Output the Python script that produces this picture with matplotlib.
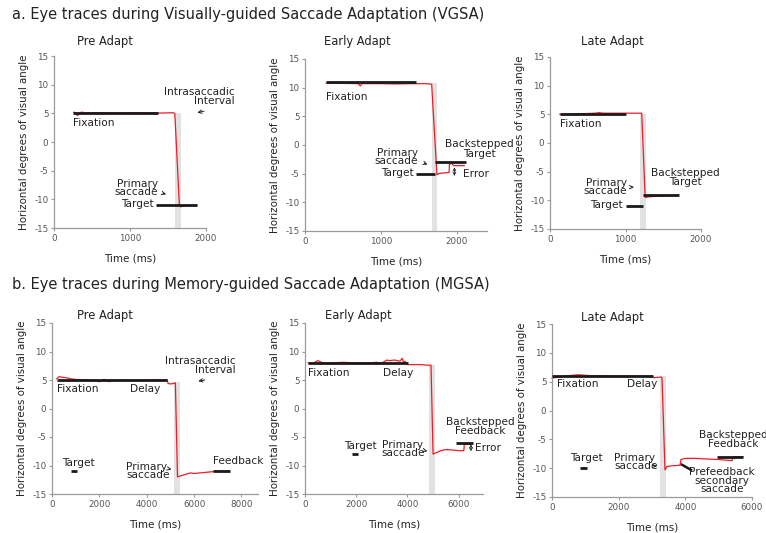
import matplotlib
matplotlib.use("Agg")
import matplotlib.pyplot as plt

plt.rcParams['font.family'] = ['DejaVu Sans']
plt.rcParams['axes.unicode_minus'] = False

# ---------------- data ----------------
# Visually-guided saccade adaptation (VGSA): eye position traces (time ms, deg)
vg_pre_t = [260, 290, 310, 330, 360, 420, 600, 800, 1000, 1200, 1400, 1570, 1590, 1650, 1670, 1700, 1750, 1800, 1880]
vg_pre_x = [5.2, 5.0, 4.6, 5.0, 5.2, 5.1, 5.1, 5.05, 5.1, 5.1, 5.05, 5.1, 4.9, -11.1, -11.3, -11.2, -11.1, -11.1, -11.0]

vg_early_t = [280, 500, 700, 730, 750, 800, 1000, 1200, 1400, 1600, 1670, 1740, 1760, 1800, 1900, 1905, 1920, 1930, 1945, 1960, 2000, 2100]
vg_early_x = [10.8, 10.75, 10.7, 10.3, 10.7, 10.7, 10.7, 10.65, 10.7, 10.7, 10.6, -5.2, -5.0, -4.9, -4.8, -3.3, -3.3, -3.0, -3.4, -3.6, -3.6, -3.6]

vg_late_t = [130, 300, 600, 650, 700, 900, 1100, 1215, 1260, 1300, 1400, 1500, 1600, 1700]
vg_late_x = [5.0, 5.05, 5.2, 5.3, 5.2, 5.2, 5.2, 5.2, -9.5, -9.4, -9.3, -9.3, -9.2, -9.1]

# Memory-guided saccade adaptation (MGSA): eye position traces
mg_pre_t = [200, 300, 400, 600, 800, 1000, 1500, 1800, 2000, 2200, 2400, 2600, 3000, 3500, 4000, 4500, 4870, 4900, 5000, 5150, 5210, 5300, 5450, 5600, 5850, 6000, 6500, 7000, 7500]
mg_pre_x = [5.2, 5.6, 5.5, 5.4, 5.2, 5.1, 5.0, 4.9, 4.7, 5.1, 4.7, 4.9, 5.0, 4.9, 5.0, 5.0, 5.0, 4.4, 4.3, 4.4, 4.5, -12.0, -11.8, -11.6, -11.3, -11.4, -11.2, -11.0, -11.0]

mg_early_t = [120, 300, 500, 700, 1000, 1500, 2000, 2500, 2800, 3000, 3200, 3300, 3500, 3700, 3800, 3850, 3900, 4000, 4200, 4500, 4800, 4920, 5000, 5100, 5300, 5500, 5800, 6000, 6200, 6220, 6300, 6500]
mg_early_x = [8.0, 7.9, 8.4, 8.0, 8.0, 8.1, 8.0, 8.0, 8.1, 8.0, 8.5, 8.4, 8.5, 8.3, 8.8, 8.0, 8.3, 7.7, 7.7, 7.7, 7.6, 7.6, -8.0, -7.8, -7.4, -7.2, -7.3, -7.4, -7.4, -6.3, -6.3, -6.2]

mg_late_t = [0, 300, 600, 800, 1000, 1300, 1600, 2000, 2500, 3000, 3050, 3280, 3300, 3390, 3450, 3600, 3800, 3840, 3870, 4000, 4300, 4600, 5000, 5400, 5430, 5500, 5730]
mg_late_x = [5.6, 5.9, 6.1, 6.2, 6.1, 6.0, 6.0, 5.95, 5.95, 5.95, 5.7, 5.8, 5.6, -10.3, -9.7, -9.6, -9.5, -9.5, -8.5, -8.3, -8.3, -8.4, -8.5, -8.7, -8.0, -8.0, -8.0]

# Stimulus bars: (start ms, end ms, position deg)
vg_pre_bars = [(250, 1370, 5), (1340, 1880, -11)]
vg_early_bars = [(280, 1470, 11), (1460, 1710, -5), (1710, 2120, -3)]
vg_late_bars = [(130, 1010, 5), (1000, 1230, -11), (1230, 1710, -9)]
mg_pre_bars = [(200, 4870, 5), (800, 1060, -11), (6780, 7500, -11)]
mg_early_bars = [(120, 4020, 8), (1840, 2070, -8), (5900, 6560, -6)]
mg_late_bars = [(0, 3030, 6), (840, 1050, -10), (4950, 5730, -8)]

# Intrasaccadic interval: (start ms, end ms, top deg)
vg_pre_isi = (1590, 1670, 5)
vg_early_isi = (1670, 1740, 10.8)
vg_late_isi = (1190, 1270, 5)
mg_pre_isi = (5170, 5400, 4.7)
mg_early_isi = (4840, 5070, 7.7)
mg_late_isi = (3240, 3420, 5.9)

panel_titles = ["Pre Adapt", "Early Adapt", "Late Adapt"]
yticks = [-15, -10, -5, 0, 5, 10, 15]

# ---------------- figure ----------------
W, H = 766, 533
fig = plt.figure(figsize=(W / 100, H / 100), dpi=100)


def px_rect(x0, x1, ytop, ybot):
    return [x0 / W, 1 - ybot / H, (x1 - x0) / W, (ybot - ytop) / H]


TXT = '#222222'
TICK = '#555555'
SPINE = '#9a9a9a'
FS = 7.6


def make_axes(rect, xlim, xticks, title, title_px):
    ax = fig.add_axes(rect)
    ax.set_xlim(*xlim)
    ax.set_ylim(-15, 15)
    ax.set_xticks(xticks)
    ax.set_yticks(yticks)
    for s in ('top', 'right'):
        ax.spines[s].set_visible(False)
    for s in ('left', 'bottom'):
        ax.spines[s].set_color(SPINE)
        ax.spines[s].set_linewidth(0.9)
    ax.tick_params(axis='both', labelsize=6.3, colors=SPINE, labelcolor=TICK,
                   length=2.5, width=0.8, pad=1.5)
    ax.set_xlabel('Time (ms)', fontsize=7.5, color=TXT, labelpad=8)
    ax.set_ylabel('Horizontal degrees of visual angle', fontsize=7.4, color=TXT, labelpad=4)
    fig.text(title_px[0] / W, 1 - title_px[1] / H, title, fontsize=8.3,
             color=TXT, ha='center', va='center')
    return ax


def draw_trace(ax, t, x, bars, isi):
    x0, x1, top = isi
    ax.fill_between([x0, x1], [-15, -15], [top, top], color='#e2e2e2', lw=0, zorder=1)
    ax.plot(t, x, color='#ee1c25', lw=0.9, zorder=2, clip_on=False)
    for (b0, b1, y) in bars:
        ax.plot([b0, b1], [y, y], color='#1a1a1a', lw=2.0, solid_capstyle='butt', zorder=3)


def label(ax, x, y, s, ha='left', ls=0.9):
    ax.text(x, y, s, fontsize=FS, color=TXT, ha=ha, va='center',
            multialignment=ha if ha != 'center' else 'center',
            linespacing=ls, clip_on=False, zorder=4)


def arrow(ax, xy_from, xy_to):
    ax.annotate('', xy=xy_to, xytext=xy_from,
                arrowprops=dict(arrowstyle='->,head_length=0.25,head_width=0.12',
                                color='#222222', lw=0.7), annotation_clip=False)


def span(ax, x, y0, y1):
    ax.annotate('', xy=(x, y1), xytext=(x, y0),
                arrowprops=dict(arrowstyle='<->,head_length=0.2,head_width=0.1',
                                color='#222222', lw=0.6, shrinkA=0, shrinkB=0),
                annotation_clip=False)


fig.text(12 / W, 1 - 15 / H, 'a. Eye traces during Visually-guided Saccade Adaptation (VGSA)',
         fontsize=10.5, color=TXT, ha='left', va='center')
fig.text(12 / W, 1 - 285 / H, 'b. Eye traces during Memory-guided Saccade Adaptation (MGSA)',
         fontsize=10.5, color=TXT, ha='left', va='center')

# ---- VGSA: pre adapt ----
ax = make_axes(px_rect(54, 206, 56, 228), (0, 2000), [0, 1000, 2000], panel_titles[0], (105, 42))
draw_trace(ax, vg_pre_t, vg_pre_x, vg_pre_bars, vg_pre_isi)
label(ax, 250, 3.3, 'Fixation')
label(ax, 2380, 8.0, 'Intrasaccadic\nInterval', ha='right')
arrow(ax, (2010, 5.5), (1850, 5.0))
label(ax, 1370, -8.0, 'Primary\nsaccade', ha='right', ls=0.8)
arrow(ax, (1400, -8.8), (1510, -9.3))
label(ax, 1315, -10.8, 'Target', ha='right')

# ---- VGSA: early adapt ----
ax = make_axes(px_rect(305, 487, 59, 231), (0, 2400), [0, 1000, 2000], panel_titles[1], (357, 42))
draw_trace(ax, vg_early_t, vg_early_x, vg_early_bars, vg_early_isi)
label(ax, 280, 8.4, 'Fixation')
label(ax, 2300, -0.7, 'Backstepped\nTarget', ha='center')
label(ax, 1490, -2.1, 'Primary\nsaccade', ha='right', ls=0.8)
arrow(ax, (1540, -3.0), (1650, -3.6))
label(ax, 1430, -4.9, 'Target', ha='right')
label(ax, 2090, -5.0, 'Error')
span(ax, 1970, -3.9, -5.4)

# ---- VGSA: late adapt ----
ax = make_axes(px_rect(550, 701, 57, 229), (0, 2000), [0, 1000, 2000], panel_titles[2], (612, 42))
draw_trace(ax, vg_late_t, vg_late_x, vg_late_bars, vg_late_isi)
label(ax, 130, 3.3, 'Fixation')
label(ax, 1790, -6.0, 'Backstepped\nTarget', ha='center')
label(ax, 1020, -7.7, 'Primary\nsaccade', ha='right', ls=0.8)
arrow(ax, (1040, -7.7), (1150, -7.7))
label(ax, 970, -10.8, 'Target', ha='right')

# ---- MGSA: pre adapt ----
ax = make_axes(px_rect(52, 258, 323, 494), (0, 8700), [0, 2000, 4000, 6000, 8000], panel_titles[0], (105, 315))
draw_trace(ax, mg_pre_t, mg_pre_x, mg_pre_bars, mg_pre_isi)
label(ax, 200, 3.4, 'Fixation')
label(ax, 3300, 3.4, 'Delay')
label(ax, 7750, 7.6, 'Intrasaccadic\nInterval', ha='right')
arrow(ax, (6570, 5.1), (6060, 4.7))
label(ax, 1100, -9.6, 'Target', ha='center')
label(ax, 3130, -11.0, 'Primary\nsaccade', ls=0.8)
arrow(ax, (4850, -10.5), (5050, -10.7))
label(ax, 6780, -9.2, 'Feedback')

# ---- MGSA: early adapt ----
ax = make_axes(px_rect(305, 483, 323, 494), (0, 6950), [0, 2000, 4000, 6000], panel_titles[1], (358, 315))
draw_trace(ax, mg_early_t, mg_early_x, mg_early_bars, mg_early_isi)
label(ax, 120, 6.2, 'Fixation')
label(ax, 3050, 6.2, 'Delay')
label(ax, 2150, -6.6, 'Target', ha='center')
label(ax, 3000, -7.1, 'Primary\nsaccade', ls=0.8)
arrow(ax, (4600, -7.3), (4780, -7.5))
label(ax, 6830, -3.2, 'Backstepped\nFeedback', ha='center')
label(ax, 6640, -6.9, 'Error')
span(ax, 6480, -6.3, -7.5)

# ---- MGSA: late adapt ----
ax = make_axes(px_rect(552, 752, 324, 497), (0, 6000), [0, 2000, 4000, 6000], panel_titles[2], (612, 317))
draw_trace(ax, mg_late_t, mg_late_x, mg_late_bars, mg_late_isi)
label(ax, 150, 4.6, 'Fixation')
label(ax, 2250, 4.6, 'Delay')
label(ax, 1020, -8.2, 'Target', ha='center')
label(ax, 1860, -8.9, 'Primary\nsaccade', ls=0.8)
arrow(ax, (3000, -9.6), (3150, -9.7))
label(ax, 5430, -5.0, 'Backstepped\nFeedback', ha='center')
label(ax, 5100, -12.2, 'Prefeedback\nsecondary\nsaccade', ha='center', ls=0.8)
ax.plot([3900, 4170], [-9.4, -10.3], color='#1a1a1a', lw=1.8, zorder=4, clip_on=False)

fig.savefig('out.png', dpi=100)
